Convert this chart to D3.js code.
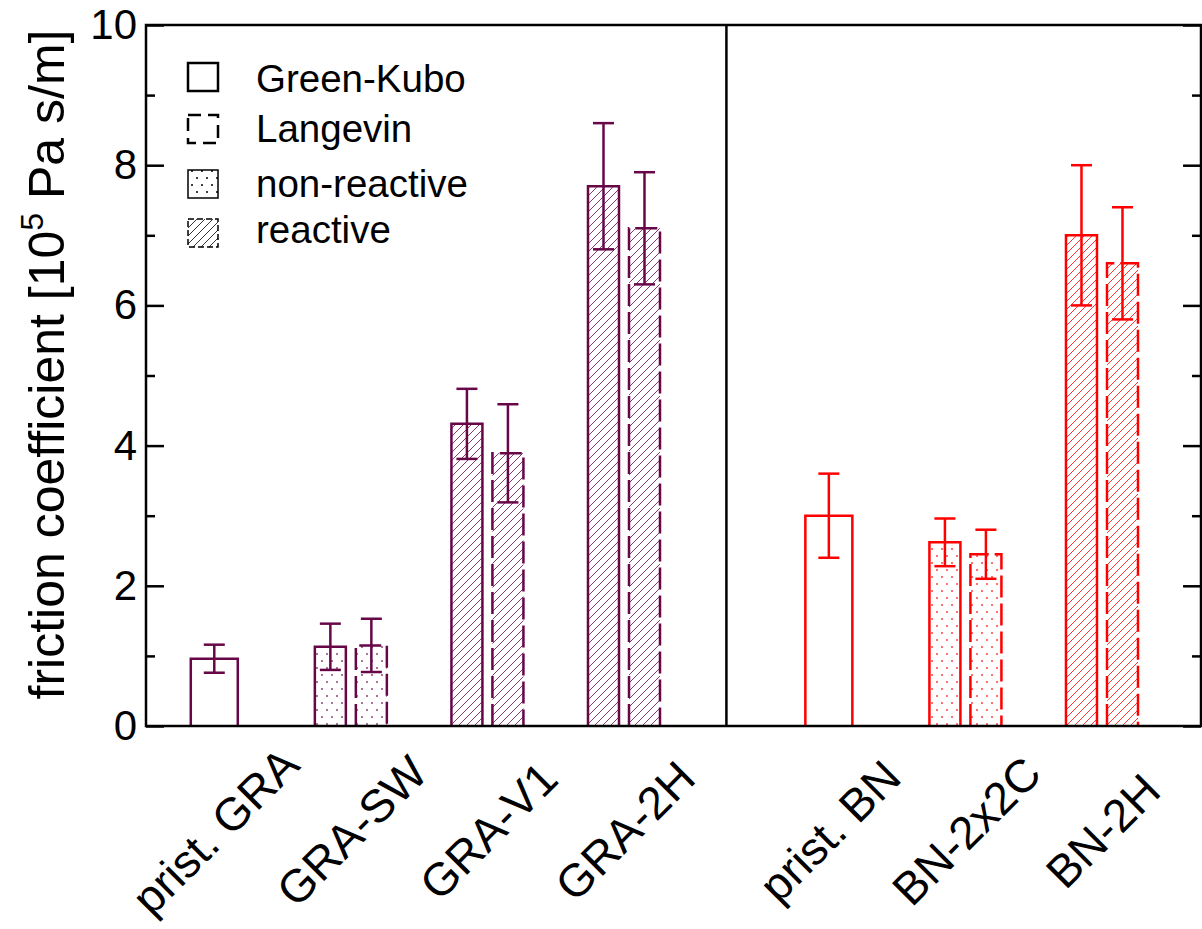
<!DOCTYPE html>
<html>
<head>
<meta charset="utf-8">
<script src="https://cdn.jsdelivr.net/npm/d3@7"></script>
<style>
  body { margin: 0; background: #fff; }
  text { font-family: "Liberation Sans", Arial, sans-serif; }
</style>
</head>
<body>
<svg id="chart" width="1202" height="929"></svg>
<script>
// data
const categories = ["prist. GRA", "GRA-SW", "GRA-V1", "GRA-2H", "prist. BN", "BN-2x2C", "BN-2H"];
const positions = [1, 2, 3, 4, 5.5, 6.5, 7.5];
const material = ["GRA", "GRA", "GRA", "GRA", "BN", "BN", "BN"];
const fillKind = ["none", "dots", "hatch", "hatch", "none", "dots", "hatch"];
const greenKubo = [0.96, 1.13, 4.31, 7.70, 3.0, 2.62, 7.0];
const greenKuboErr = [0.2, 0.33, 0.5, 0.9, 0.6, 0.34, 1.0];
const langevin = [null, 1.15, 3.89, 7.10, null, 2.45, 6.6];
const langevinErr = [null, 0.38, 0.7, 0.8, null, 0.35, 0.8];
const dividerAt = 4.75;
const yMajor = [0, 2, 4, 6, 8, 10];
const yMinor = [1, 3, 5, 7, 9];
const legendItems = ["Green-Kubo", "Langevin", "non-reactive", "reactive"];

const colors = { GRA: "#670748", BN: "#ff0000" };

const svg = d3.select("#chart");
const mLeft = 146, mRight = 1201, mTop = 25, mBottom = 726;

const x = d3.scaleLinear().domain([0.5, 8.225]).range([mLeft, mRight]);
const y = d3.scaleLinear().domain([0, 10]).range([mBottom, mTop]);

// patterns
const defs = svg.append("defs");
const addPatterns = (key, c, op) => {
  const dots = defs.append("pattern")
    .attr("id", "dots-" + key)
    .attr("patternUnits", "userSpaceOnUse")
    .attr("width", 10)
    .attr("height", 14);
  dots.append("circle").attr("cx", 2).attr("cy", 3).attr("r", 1).attr("fill", c).attr("opacity", op);
  dots.append("circle").attr("cx", 7).attr("cy", 10).attr("r", 1).attr("fill", c).attr("opacity", op);

  const hatch = defs.append("pattern")
    .attr("id", "hatch-" + key)
    .attr("patternUnits", "userSpaceOnUse")
    .attr("width", 8)
    .attr("height", 8);
  hatch.append("path")
    .attr("d", "M0,8 L8,0 M-2,2 L2,-2 M6,10 L10,6")
    .attr("stroke", c)
    .attr("stroke-width", 0.8);
};
Object.entries(colors).forEach(([key, c]) => addPatterns(key, c, 0.75));
addPatterns("legend", "#000", 1);

const fillFor = (i) => fillKind[i] === "none" ? "none" : `url(#${fillKind[i]}-${material[i]})`;

// bars
const pairWidth = 31, pairOffset = 20.5, soloWidth = 47, capW = 21;
const bars = [];
categories.forEach((cat, i) => {
  if (langevin[i] === null) {
    bars.push({ cx: x(positions[i]), w: soloWidth, v: greenKubo[i], e: greenKuboErr[i], i, dashed: false });
  } else {
    bars.push({ cx: x(positions[i]) - pairOffset, w: pairWidth, v: greenKubo[i], e: greenKuboErr[i], i, dashed: false });
    bars.push({ cx: x(positions[i]) + pairOffset, w: pairWidth, v: langevin[i], e: langevinErr[i], i, dashed: true });
  }
});

const barG = svg.append("g");
barG.selectAll("path.bar")
  .data(bars)
  .join("path")
  .attr("class", "bar")
  .attr("d", (d) => {
    const x0 = d.cx - d.w / 2, x1 = d.cx + d.w / 2;
    return `M${x0},${y(0)} L${x0},${y(d.v)} L${x1},${y(d.v)} L${x1},${y(0)}`;
  })
  .attr("fill", (d) => fillFor(d.i))
  .attr("stroke", (d) => colors[material[d.i]])
  .attr("stroke-width", 2.5)
  .attr("stroke-dasharray", (d) => d.dashed ? "22,6" : null);

const errG = barG.selectAll("g.err")
  .data(bars)
  .join("g")
  .attr("class", "err")
  .attr("stroke", (d) => colors[material[d.i]])
  .attr("stroke-width", 2.5);
errG.append("line")
  .attr("x1", (d) => d.cx).attr("x2", (d) => d.cx)
  .attr("y1", (d) => y(d.v + d.e)).attr("y2", (d) => y(d.v - d.e));
errG.append("line")
  .attr("x1", (d) => d.cx - capW / 2).attr("x2", (d) => d.cx + capW / 2)
  .attr("y1", (d) => y(d.v + d.e)).attr("y2", (d) => y(d.v + d.e));
errG.append("line")
  .attr("x1", (d) => d.cx - capW / 2).attr("x2", (d) => d.cx + capW / 2)
  .attr("y1", (d) => y(d.v - d.e)).attr("y2", (d) => y(d.v - d.e));

// frame and divider
svg.append("rect")
  .attr("x", mLeft).attr("y", mTop)
  .attr("width", mRight - mLeft).attr("height", mBottom - mTop)
  .attr("fill", "none").attr("stroke", "#000").attr("stroke-width", 2.5);
svg.append("line")
  .attr("x1", x(dividerAt)).attr("x2", x(dividerAt))
  .attr("y1", mTop).attr("y2", mBottom)
  .attr("stroke", "#000").attr("stroke-width", 2.5);

// y axes, ticks pointing inwards
const yAxisL = svg.append("g")
  .attr("transform", `translate(${mLeft},0)`)
  .call(d3.axisLeft(y).tickValues(yMajor).tickSize(-18).tickPadding(9).tickFormat(d3.format("d")));
const yMinorL = svg.append("g")
  .attr("transform", `translate(${mLeft},0)`)
  .call(d3.axisLeft(y).tickValues(yMinor).tickSize(-9).tickFormat(""));
const yAxisR = svg.append("g")
  .attr("transform", `translate(${mRight},0)`)
  .call(d3.axisRight(y).tickValues(yMajor).tickSize(-18).tickFormat(""));
const yMinorR = svg.append("g")
  .attr("transform", `translate(${mRight},0)`)
  .call(d3.axisRight(y).tickValues(yMinor).tickSize(-9).tickFormat(""));

[yAxisL, yMinorL, yAxisR, yMinorR].forEach((g) => {
  g.select(".domain").remove();
  g.selectAll(".tick line").attr("stroke", "#000").attr("stroke-width", 2.5);
});
yAxisL.selectAll(".tick text")
  .attr("font-size", 42)
  .attr("font-family", "Liberation Sans, Arial, sans-serif")
  .attr("fill", "#000");

// y label
const yLabel = svg.append("text")
  .attr("transform", `translate(64,${(mTop + mBottom) / 2 - 11}) rotate(-90)`)
  .attr("text-anchor", "middle")
  .attr("font-size", 50)
  .attr("fill", "#000");
yLabel.append("tspan").text("friction coefficient [10");
yLabel.append("tspan").attr("font-size", 32).attr("dy", -21).text("5");
yLabel.append("tspan").attr("dy", 21).text(" Pa s/m]");

// x category labels, rotated
svg.append("g")
  .selectAll("text")
  .data(categories)
  .join("text")
  .attr("transform", (d, i) => `translate(${x(positions[i]) + 1},${831}) rotate(-45)`)
  .attr("text-anchor", "middle")
  .attr("dominant-baseline", "central")
  .attr("font-size", 46)
  .attr("fill", "#000")
  .text((d) => d);

// legend
const legendY = [63, 115, 170, 219];
const legendTextY = [92, 142, 197, 243];
const leg = svg.append("g");
legendItems.forEach((name, k) => {
  leg.append("rect")
    .attr("x", 188).attr("y", legendY[k])
    .attr("width", 30).attr("height", 28)
    .attr("fill", k === 2 ? "url(#dots-legend)" : k === 3 ? "url(#hatch-legend)" : "none")
    .attr("stroke", "#000")
    .attr("stroke-width", k < 2 ? 2.5 : 1.5)
    .attr("stroke-dasharray", k === 1 ? "13,7" : k === 3 ? "6,3" : null);
  leg.append("text")
    .attr("x", 256).attr("y", legendTextY[k])
    .attr("font-size", 38.5)
    .attr("fill", "#000")
    .text(name);
});
</script>
</body>
</html>
